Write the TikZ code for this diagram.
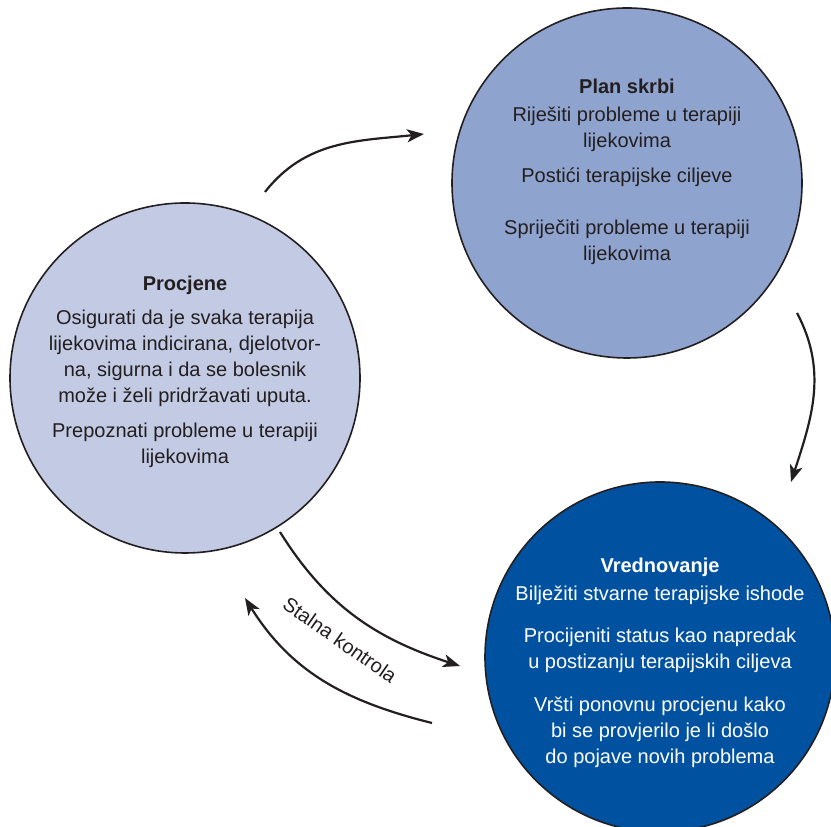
\documentclass[tikz,border=0pt]{standalone}
\usepackage{fontspec}
\setmainfont{Liberation Sans}
\usetikzlibrary{arrows.meta}
\definecolor{procfill}{RGB}{195,202,227}
\definecolor{planfill}{RGB}{143,163,207}
\definecolor{vredfill}{RGB}{0,82,160}
\definecolor{ink}{RGB}{35,31,32}

\begin{document}
\begin{tikzpicture}[x=1pt,y=1pt,
            circ/.style = {circle,draw=ink,line width=1.6pt,
                minimum size=350pt,inner sep=0pt},
            txt/.style = {align=center,text=ink,
                font=\fontsize{20}{26}\selectfont},
            link/.style = {draw=ink,line width=2.2pt,
                -{Stealth[length=17pt,width=13pt,inset=4.5pt]}}]
            \useasboundingbox (0,0) rectangle (831,827);
            \node[circ,fill=procfill] (proc) at (185,449) {};
            \node[circ,fill=planfill] (plan) at (627,644) {};
            \node[circ,fill=vredfill] (vred) at (660,170) {};
            \node[txt] (proctxt) at (185,455) {
                \textbf{Procjene}\\[8pt]
                Osigurati da je svaka terapija\\
                lijekovima indicirana, djelotvor-\\
                na, sigurna i da se bolesnik\\
                može i želi pridržavati uputa.\\[9pt]
                Prepoznati probleme u terapiji\\
                lijekovima
            };
            \node[txt] (plantxt) at (627,655) {
                \textbf{Plan skrbi}\\[2pt]
                Riješiti probleme u terapiji\\
                lijekovima\\[9pt]
                Postići terapijske ciljeve\\[26pt]
                Spriječiti probleme u terapiji\\
                lijekovima
            };
            \node[txt,text=white] (vredtxt) at (660,164) {
                \textbf{Vrednovanje}\\[2pt]
                Bilježiti stvarne terapijske ishode\\[16pt]
                Procijeniti status kao napredak\\
                u postizanju terapijskih ciljeva\\[17pt]
                Vršti ponovnu procjenu kako\\
                bi se provjerilo je li došlo\\
                do pojave novih problema
            };
            \node[txt,rotate=-35] (kontrola) at (340,187) {Stalna kontrola};
            \coordinate (a1) at (265,635);
            \coordinate (b1) at (424,693);
            \coordinate (a2) at (797,514);
            \coordinate (b2) at (791,345);
            \coordinate (a3) at (280,295);
            \coordinate (b3) at (460,161);
            \coordinate (a4) at (432,104);
            \coordinate (b4) at (245,229);
            \draw[link] (a1) to[out=52,in=186] (b1);
            \draw[link] (a2) to[out=-62,in=72] (b2);
            \draw[link] (a3) to[out=-58,in=162] (b3);
            \draw[link] (a4) to[out=166,in=-58] (b4);
        \end{tikzpicture}
\end{document}
